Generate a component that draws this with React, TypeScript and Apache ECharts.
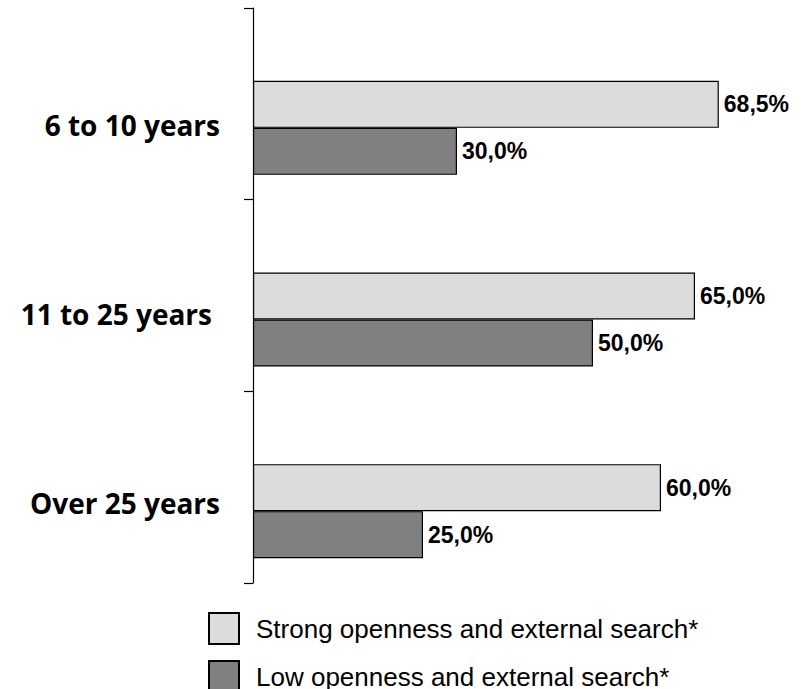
import React, { useEffect, useRef } from "react";
import * as echarts from "echarts";

const categories = ["6 to 10 years", "11 to 25 years", "Over 25 years"];
const strongValues = [68.5, 65.0, 60.0];
const lowValues = [30.0, 50.0, 25.0];
const seriesNames = ["Strong openness and external search*", "Low openness and external search*"];
const labelLift = [6, 12, 16];
const labelInset = [0, 8, 0];

export default function App() {
  const ref = useRef<HTMLDivElement>(null);
  useEffect(() => {
    document.body.style.margin = "0";
    if (!ref.current) return;
    const chart = echarts.init(ref.current, null, { renderer: "svg" });
    const fmt = (p: any) => p.value.toFixed(1).replace(".", ",") + "%";
    const labelStyle = {
      show: true,
      position: "right" as const,
      distance: 5,
      formatter: fmt,
      fontFamily: "Liberation Sans, Arial, sans-serif",
      fontWeight: "bold" as const,
      fontSize: 23,
      color: "#000",
    };
    const catFont = { fontFamily: "Open Sans", fontWeight: "bold" as const, fontSize: 28, color: "#000" };
    const rich: Record<string, any> = {};
    labelLift.forEach((lift, i) => {
      rich["c" + i] = { ...catFont, padding: [0, labelInset[i], lift, 0] };
    });
    chart.setOption({
      animation: false,
      backgroundColor: "#fff",
      grid: [
        { left: 253, top: 8, width: 544, height: 575 },
        { left: 253, top: 32, width: 544, height: 575 },
      ],
      xAxis: [
        { type: "value", gridIndex: 0, min: 0, max: 80, show: false },
        { type: "value", gridIndex: 1, min: 0, max: 80, show: false },
      ],
      yAxis: [
        {
          type: "category",
          gridIndex: 0,
          data: ["", "", ""],
          axisLine: { show: true, lineStyle: { color: "#000", width: 1.2 } },
          axisTick: { show: true, length: 9, lineStyle: { color: "#000", width: 1.2 } },
          axisLabel: { show: false },
          splitLine: { show: false },
        },
        {
          type: "category",
          gridIndex: 1,
          inverse: true,
          data: categories,
          axisLine: { show: false },
          axisTick: { show: false },
          splitLine: { show: false },
          axisLabel: {
            margin: 33,
            ...catFont,
            formatter: (v: string, i: number) => `{c${i}|${v}}`,
            rich,
          },
        },
      ],
      legend: {
        orient: "vertical",
        left: 208,
        top: 612,
        height: 120,
        padding: 0,
        itemWidth: 30,
        itemHeight: 31,
        itemGap: 15,
        icon: "rect",
        data: seriesNames,
        itemStyle: { borderColor: "#000", borderWidth: 2 },
        textStyle: {
          fontFamily: "Liberation Sans, Arial, sans-serif",
          fontSize: 26,
          color: "#000",
          padding: [0, 0, 0, 12],
        },
      },
      series: [
        {
          name: seriesNames[0],
          type: "bar",
          xAxisIndex: 1,
          yAxisIndex: 1,
          data: strongValues,
          barWidth: 47,
          barGap: "0%",
          itemStyle: { color: "#dcdcdc", borderColor: "#000", borderWidth: 1.2 },
          label: labelStyle,
        },
        {
          name: seriesNames[1],
          type: "bar",
          xAxisIndex: 1,
          yAxisIndex: 1,
          data: lowValues,
          barWidth: 47,
          barGap: "0%",
          itemStyle: { color: "#808080", borderColor: "#000", borderWidth: 1.2 },
          label: labelStyle,
        },
      ],
    });
    return () => chart.dispose();
  }, []);
  return <div ref={ref} style={{ width: 802, height: 689 }} />;
}
